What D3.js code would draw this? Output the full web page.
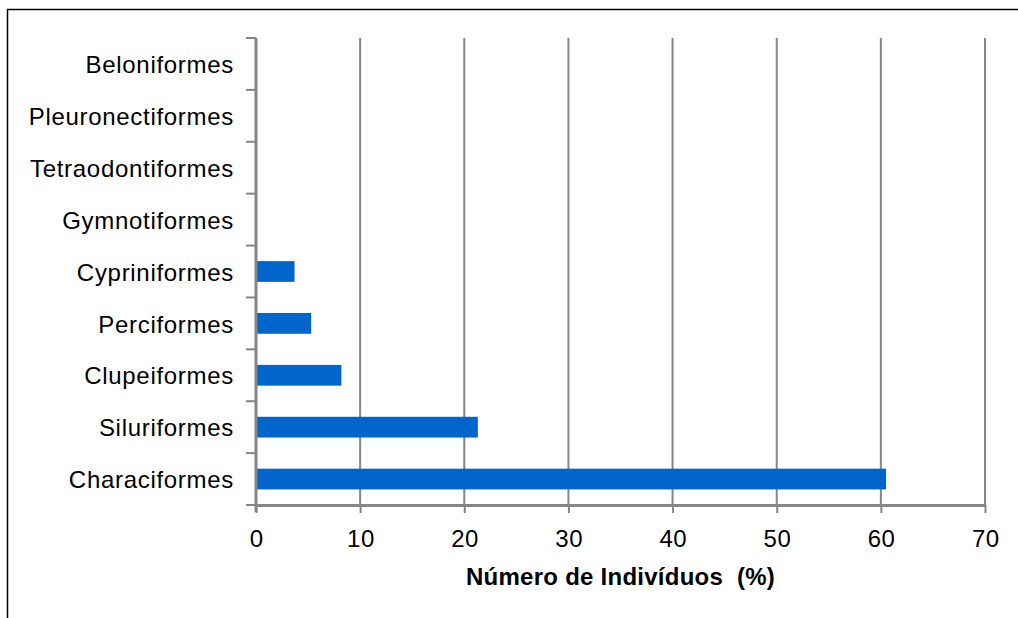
<!DOCTYPE html>
<html lang="pt">
<head>
    <title>Ordens</title>
    <script src="https://d3js.org/d3.v7.min.js"></script>
    <style>
        body { margin: 0; background: #fff; }
        text { font-family: "Liberation Sans", Arial, sans-serif; fill: #000; }
        .domain, .tick line { stroke: #868686; }
    </style>
</head>
<body>
<script>
    // categories bottom to top
    const orders = ["Characiformes", "Siluriformes", "Clupeiformes", "Perciformes", "Cypriniformes",
                    "Gymnotiformes", "Tetraodontiformes", "Pleuronectiformes", "Beloniformes"];
    const percent = [60.5, 21.3, 8.2, 5.3, 3.7, 0, 0, 0, 0];
    const xTicks = [0, 10, 20, 30, 40, 50, 60, 70];

    const svg = d3.select("body").append("svg").attr("width", 1018).attr("height", 618);

    // outer frame
    svg.append("rect").attr("x", 7.5).attr("y", 9.5).attr("width", 1020).attr("height", 620)
        .attr("fill", "none").attr("stroke", "#000").attr("stroke-width", 1.5);

    const pLeft = 256, pRight = 985, pTop = 38, pBottom = 505;
    const x = d3.scaleLinear().domain([0, 70]).range([pLeft, pRight]);
    const y = d3.scaleBand().domain(orders).range([pBottom, pTop]).paddingInner(0.6).paddingOuter(0.3);
    const yTicks = d3.scaleBand().domain(orders).range([pBottom, pTop]);

    // vertical grid
    svg.append("g").selectAll("line").data(xTicks.slice(1)).enter().append("line")
        .attr("x1", d => x(d)).attr("x2", d => x(d)).attr("y1", pTop).attr("y2", pBottom)
        .attr("stroke", "#868686").attr("stroke-width", 2);

    // bars
    svg.append("g").selectAll("rect").data(orders).enter().append("rect")
        .attr("x", x(0)).attr("y", d => y(d))
        .attr("width", (d, i) => x(percent[i]) - x(0)).attr("height", y.bandwidth())
        .attr("fill", "#0066cc");

    // x axis
    const xAxis = d3.axisBottom(x).tickValues(xTicks).tickSize(8).tickPadding(17).tickSizeOuter(0);
    const gx = svg.append("g").attr("transform", `translate(0,${pBottom})`).call(xAxis);
    gx.select(".domain").attr("stroke-width", 3);
    gx.selectAll(".tick line").attr("stroke-width", 2);
    gx.selectAll("text").attr("font-size", 24).attr("letter-spacing", 0.5).attr("dx", 0.25);

    // y axis (boundary ticks)
    const gy = svg.append("g").attr("transform", `translate(${pLeft},0)`);
    gy.append("line").attr("x1", 0).attr("x2", 0).attr("y1", pTop).attr("y2", pBottom + 7)
        .attr("stroke", "#868686").attr("stroke-width", 3);
    const bounds = orders.map(d => yTicks(d)).concat([pBottom]);
    gy.selectAll(".bt").data(bounds).enter().append("line")
        .attr("x1", -10).attr("x2", 0).attr("y1", d => d).attr("y2", d => d)
        .attr("stroke", "#868686").attr("stroke-width", 2);
    gy.selectAll(".lab").data(orders).enter().append("text")
        .attr("x", -22).attr("y", d => yTicks(d) + yTicks.bandwidth() / 2)
        .attr("dy", "0.38em").attr("text-anchor", "end").attr("font-size", 24)
        .attr("letter-spacing", 0.7)
        .text(d => d);

    // axis title
    svg.append("text").attr("x", (pLeft + pRight) / 2).attr("y", 585)
        .attr("text-anchor", "middle").attr("font-size", 24).attr("font-weight", "bold")
        .attr("letter-spacing", 0.25)
        .style("white-space", "pre")
        .text("Número de Indivíduos  (%)");
</script>
</body>
</html>
